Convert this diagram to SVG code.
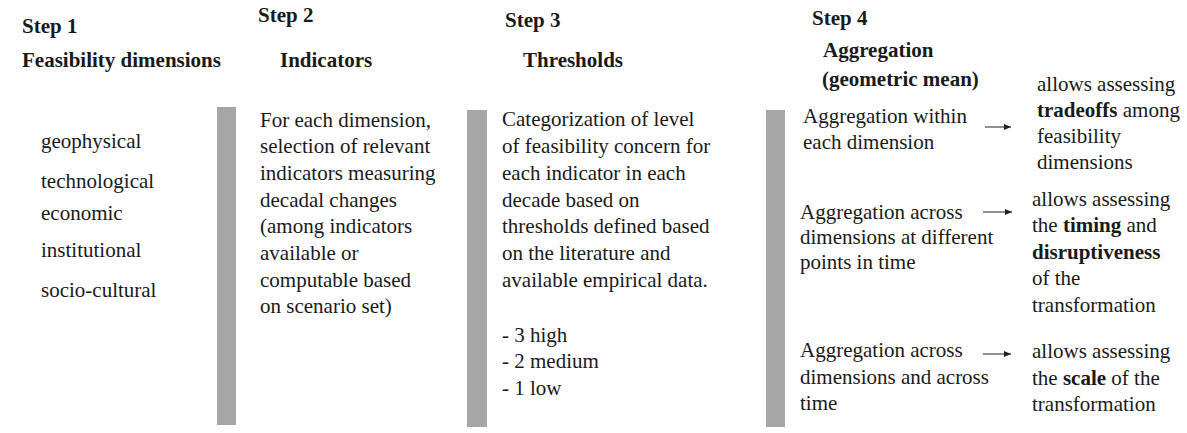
<svg xmlns="http://www.w3.org/2000/svg" width="1187" height="433" viewBox="0 0 1187 433">
  <defs>
    <style>
      text { font-family: 'Liberation Serif', 'DejaVu Serif', serif; font-size: 21px; fill: #1a1a1a; }
      .h { font-weight: bold; }
      .b { font-weight: bold; }
      .bar { fill: #a6a6a6; }
      .arrow { stroke: #222; stroke-width: 1; fill: none; marker-end: url(#head); }
    </style>
    <marker id="head" viewBox="0 0 8 8" refX="7" refY="4" markerWidth="8" markerHeight="8" markerUnits="userSpaceOnUse" orient="auto">
      <path d="M0,1 L7,4 L0,7 Z" fill="#222"/>
    </marker>
  </defs>
  <rect width="1187" height="433" fill="#fff"/>

  <!-- Step 1: feasibility dimensions -->
  <g id="step1">
    <text class="h" x="22" y="33">Step 1</text>
    <text class="h" x="22" y="67">Feasibility dimensions</text>
    <text x="41" y="148">geophysical</text>
    <text x="41" y="188">technological</text>
    <text x="41" y="220">economic</text>
    <text x="41" y="257">institutional</text>
    <text x="41" y="297">socio-cultural</text>
    <rect class="bar" x="217" y="107" width="19" height="318"/>
  </g>

  <!-- Step 2: indicators -->
  <g id="step2">
    <text class="h" x="258" y="22">Step 2</text>
    <text class="h" x="280" y="67">Indicators</text>
    <text x="260" y="127">For each dimension,</text>
    <text x="260" y="153">selection of relevant</text>
    <text x="260" y="180">indicators measuring</text>
    <text x="260" y="207">decadal changes</text>
    <text x="260" y="233">(among indicators</text>
    <text x="260" y="260">available or</text>
    <text x="260" y="287">computable based</text>
    <text x="260" y="313">on scenario set)</text>
    <rect class="bar" x="467" y="110" width="20" height="317"/>
  </g>

  <!-- Step 3: thresholds -->
  <g id="step3">
    <text class="h" x="505" y="27">Step 3</text>
    <text class="h" x="523" y="67">Thresholds</text>
    <text x="502" y="126">Categorization of level</text>
    <text x="502" y="153">of feasibility concern for</text>
    <text x="502" y="180">each indicator in each</text>
    <text x="502" y="207">decade based on</text>
    <text x="502" y="233">thresholds defined based</text>
    <text x="502" y="260">on the literature and</text>
    <text x="502" y="287">available empirical data.</text>
    <text x="502" y="342">- 3 high</text>
    <text x="502" y="368">- 2 medium</text>
    <text x="502" y="395">- 1 low</text>
    <rect class="bar" x="766" y="110" width="19" height="317"/>
  </g>

  <!-- Step 4: aggregation -->
  <g id="step4">
    <text class="h" x="812" y="25">Step 4</text>
    <text class="h" x="823" y="57">Aggregation</text>
    <text class="h" x="822" y="86">(geometric mean)</text>
  </g>

  <g id="agg-within">
    <text x="803" y="123">Aggregation within</text>
    <text x="803" y="149">each dimension</text>
  </g>
  <g id="use-tradeoffs">
    <text x="1037" y="91">allows assessing</text>
    <text x="1037" y="117"><tspan class="b">tradeoffs</tspan> among</text>
    <text x="1037" y="143">feasibility</text>
    <text x="1037" y="169">dimensions</text>
  </g>

  <g id="agg-points">
    <text x="800" y="219">Aggregation across</text>
    <text x="800" y="244">dimensions at different</text>
    <text x="800" y="269">points in time</text>
  </g>
  <g id="use-timing">
    <text x="1032" y="206">allows assessing</text>
    <text x="1032" y="232">the <tspan class="b">timing</tspan> and</text>
    <text x="1032" y="259"><tspan class="b">disruptiveness</tspan></text>
    <text x="1032" y="285">of the</text>
    <text x="1032" y="312">transformation</text>
  </g>

  <g id="agg-time">
    <text x="800" y="357">Aggregation across</text>
    <text x="800" y="384">dimensions and across</text>
    <text x="800" y="410">time</text>
  </g>
  <g id="use-scale">
    <text x="1032" y="358">allows assessing</text>
    <text x="1032" y="385">the <tspan class="b">scale</tspan> of the</text>
    <text x="1032" y="411">transformation</text>
  </g>

  <!-- connectors -->
  <g id="connectors">
    <line class="arrow" x1="985" y1="127" x2="1011" y2="127"/>
    <line class="arrow" x1="983" y1="212" x2="1012" y2="212"/>
    <line class="arrow" x1="983" y1="354" x2="1011" y2="354"/>
  </g>
</svg>
